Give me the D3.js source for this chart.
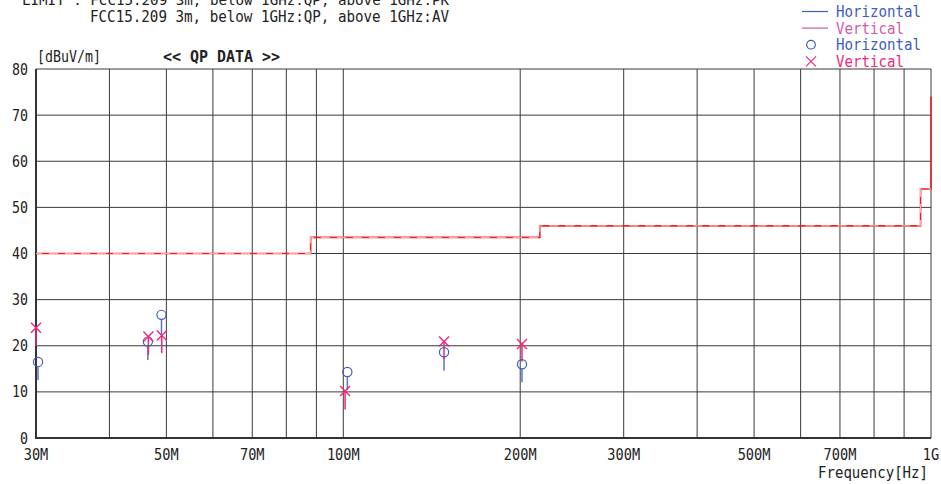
<!DOCTYPE html>
<html>
<head>
<meta charset="utf-8">
<title>QP DATA</title>
<style>
  html, body { margin: 0; padding: 0; background: #fff; }
  svg { display: block; }
  text { font-family: "DejaVu Sans Mono", monospace; fill: #222; }
  .tick-label { font-size: 15px; }
  .grid line { stroke: #3a3a3a; stroke-width: 1; }
</style>
</head>
<body>
<svg id="chart" width="941" height="484"></svg>
<script src="https://cdn.jsdelivr.net/npm/d3@7/dist/d3.min.js"></script>
<script>
// frequencies in MHz, levels in dBuV/m
var gridFreqs = [30, 40, 50, 60, 70, 80, 90, 100, 200, 300, 400, 500, 600, 700, 800, 900, 1000];
var xTickFreqs = [30, 50, 70, 100, 200, 300, 500, 700, 1000];
var xTickLabels = ["30M", "50M", "70M", "100M", "200M", "300M", "500M", "700M", "1G"];
var yTicks = [0, 10, 20, 30, 40, 50, 60, 70, 80];

// limit lines (QP / PK and AV)
var limitFreqs = [30, 88, 88, 216, 216, 960, 960, 1000, 1000];
var limitPK = [40, 40, 43.5, 43.5, 46, 46, 54, 54, 74];
var limitAV = [40, 40, 43.5, 43.5, 46, 46, 54, 54];

// Horizontal polarisation
var hFreq = [30.24, 46.5, 49.05, 101.6, 148.4, 201.4];
var hLevel = [16.5, 20.9, 26.7, 14.3, 18.6, 16.0];
var hLow = [12.6, 16.9, 22.3, 10.4, 14.6, 12.1];

// Vertical polarisation
var vFreq = [30.0, 46.6, 49.1, 100.7, 148.4, 201.4];
var vLevel = [23.9, 22.0, 22.2, 10.2, 20.9, 20.4];
var vLow = [20.0, 18.0, 18.4, 6.2, 17.0, 16.6];

var blue = "#3f5cbf", blueStem = "#5b73c9";
var pink = "#f0287a", pinkLine = "#c95aa6";

var svg = d3.select("#chart");
var x = d3.scaleLog().domain([30, 1000]).range([36, 931]);
var y = d3.scaleLinear().domain([0, 80]).range([438, 69]);

// grid
var grid = svg.append("g").attr("class", "grid");
grid.selectAll(".v").data(gridFreqs).enter().append("line")
    .attr("x1", d => x(d)).attr("x2", d => x(d))
    .attr("y1", y(0)).attr("y2", y(80));
grid.selectAll(".h").data(yTicks).enter().append("line")
    .attr("x1", x(30)).attr("x2", x(1000))
    .attr("y1", d => y(d)).attr("y2", d => y(d));

// axes frame
svg.append("line").attr("x1", x(30)).attr("x2", x(30)).attr("y1", y(0) + 1).attr("y2", y(80))
    .attr("stroke", "#333").attr("stroke-width", 2);
svg.append("line").attr("x1", x(30)).attr("x2", x(1000)).attr("y1", y(0)).attr("y2", y(0))
    .attr("stroke", "#333").attr("stroke-width", 2);

// tick labels
svg.selectAll(".ylab").data(yTicks).enter().append("text")
    .attr("class", "tick-label")
    .attr("x", 28).attr("y", d => y(d) + 5.5)
    .attr("text-anchor", "end")
    .attr("textLength", d => String(d).length * 8).attr("lengthAdjust", "spacingAndGlyphs")
    .text(d => d);
svg.selectAll(".xlab").data(xTickFreqs).enter().append("text")
    .attr("class", "tick-label")
    .attr("x", d => x(d)).attr("y", 460)
    .attr("text-anchor", "middle")
    .attr("textLength", (d, i) => xTickLabels[i].length * 8.2).attr("lengthAdjust", "spacingAndGlyphs")
    .text((d, i) => xTickLabels[i]);

// limit lines
var limLine = d3.line().x(d => x(d[0])).y(d => y(d[1]));
svg.append("path")
    .datum(limitPK.map((v, i) => [limitFreqs[i], v]))
    .attr("d", limLine).attr("fill", "none")
    .attr("stroke", "#f02020").attr("stroke-width", 1.6);
svg.append("path")
    .datum(limitAV.map((v, i) => [limitFreqs[i], v]))
    .attr("d", limLine).attr("fill", "none")
    .attr("stroke", "#f7a8a8").attr("stroke-width", 1.2)
    .attr("stroke-dasharray", "9,7").attr("stroke-dashoffset", 3);

// stems
function stems(freq, level, low, color, off) {
    svg.append("g").selectAll("line").data(freq).enter().append("line")
        .attr("x1", d => x(d)).attr("x2", d => x(d))
        .attr("y1", (d, i) => y(level[i]) + off).attr("y2", (d, i) => y(low[i]))
        .attr("stroke", color).attr("stroke-width", 1.5);
}
stems(hFreq, hLevel, hLow, blueStem, 5);
stems(vFreq, vLevel, vLow, pink, 0);

// markers
svg.append("g").selectAll("circle").data(hFreq).enter().append("circle")
    .attr("cx", d => x(d)).attr("cy", (d, i) => y(hLevel[i]))
    .attr("r", 4.6).attr("fill", "none")
    .attr("stroke", blue).attr("stroke-width", 1.2);
var s = 5;
svg.append("g").selectAll("path").data(vFreq).enter().append("path")
    .attr("d", (d, i) => {
        var cx = x(d), cy = y(vLevel[i]);
        return "M" + (cx - s) + "," + (cy - s) + "L" + (cx + s) + "," + (cy + s) +
               "M" + (cx - s) + "," + (cy + s) + "L" + (cx + s) + "," + (cy - s);
    })
    .attr("stroke", pink).attr("stroke-width", 1.4).attr("fill", "none");

// header texts
svg.append("text").attr("x", 22).attr("y", 4.5).attr("font-size", 14)
    .attr("textLength", 427).attr("lengthAdjust", "spacingAndGlyphs")
    .text("LIMIT : FCC15.209 3m, below 1GHz:QP, above 1GHz:PK");
svg.append("text").attr("x", 90).attr("y", 21.5).attr("font-size", 16)
    .attr("textLength", 359).attr("lengthAdjust", "spacingAndGlyphs")
    .text("FCC15.209 3m, below 1GHz:QP, above 1GHz:AV");
svg.append("text").attr("x", 37).attr("y", 61.5).attr("font-size", 16)
    .attr("textLength", 64).attr("lengthAdjust", "spacingAndGlyphs")
    .text("[dBuV/m]");
svg.append("text").attr("x", 163).attr("y", 61.5).attr("font-size", 16)
    .attr("font-weight", "bold")
    .attr("textLength", 117).attr("lengthAdjust", "spacingAndGlyphs")
    .text("<< QP DATA >>");
svg.append("text").attr("x", 928).attr("y", 478).attr("font-size", 15)
    .attr("text-anchor", "end")
    .attr("textLength", 110).attr("lengthAdjust", "spacingAndGlyphs")
    .text("Frequency[Hz]");

// legend
var legendRows = [
    { label: "Horizontal", color: blue, kind: "line", lc: blue },
    { label: "Vertical", color: "#d35aa8", kind: "line", lc: pinkLine },
    { label: "Horizontal", color: blue, kind: "circle", lc: blue },
    { label: "Vertical", color: pink, kind: "cross", lc: pink }
];
var lg = svg.append("g");
legendRows.forEach(function (r, i) {
    var cy = 11.5 + i * 16.6;
    if (r.kind === "line") {
        lg.append("line").attr("x1", 802).attr("x2", 828).attr("y1", cy).attr("y2", cy)
            .attr("stroke", r.lc).attr("stroke-width", 1.2);
    } else if (r.kind === "circle") {
        lg.append("circle").attr("cx", 811).attr("cy", cy).attr("r", 4.3)
            .attr("fill", "none").attr("stroke", r.lc).attr("stroke-width", 1.2);
    } else {
        lg.append("path")
            .attr("d", "M806," + (cy - 5) + "L816," + (cy + 5) + "M806," + (cy + 5) + "L816," + (cy - 5))
            .attr("stroke", r.lc).attr("stroke-width", 1.2);
    }
    lg.append("text").attr("x", 836).attr("y", cy + 5.5).attr("font-size", 15)
        .style("fill", r.color)
        .attr("textLength", r.label.length * 8.5).attr("lengthAdjust", "spacingAndGlyphs")
        .text(r.label);
});
</script>
</body>
</html>
